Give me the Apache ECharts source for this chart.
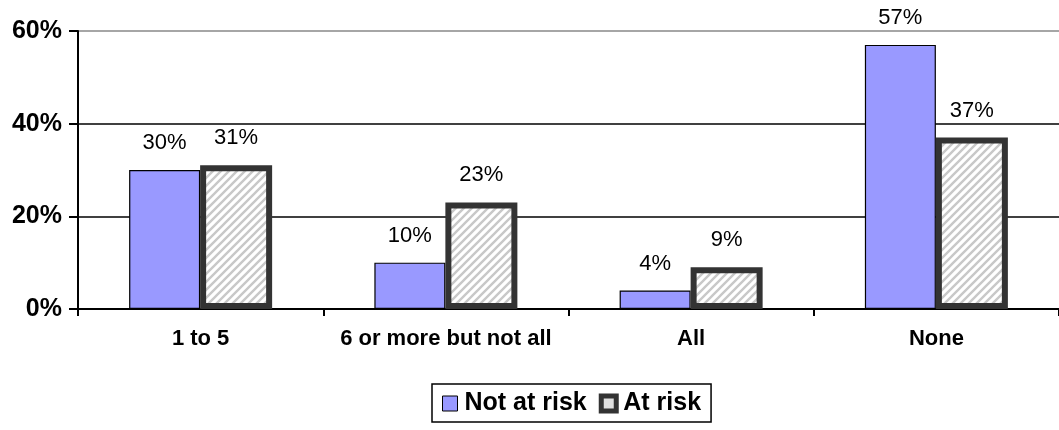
<!DOCTYPE html>
<html>
<head>
<meta charset="utf-8">
<script src="https://cdn.jsdelivr.net/npm/echarts@6/dist/echarts.min.js"></script>
<style>
html,body{margin:0;padding:0;background:#fff;}
#chart{width:1059px;height:430px;}
</style>
</head>
<body>
<div id="chart"></div>
<script>
var categories = ['1 to 5', '6 or more but not all', 'All', 'None'];
var notAtRisk = [30, 10, 4, 57];
var atRisk = [31, 23, 9, 37];
var seriesNames = ['Not at risk', 'At risk'];
var yTicks = [0, 20, 40, 60];

// hatch pattern tile
var tile = document.createElement('canvas');
tile.width = 8; tile.height = 8;
var c = tile.getContext('2d');
c.fillStyle = '#ffffff';
c.fillRect(0, 0, 8, 8);
c.strokeStyle = '#c8c8c8';
c.lineWidth = 2.4;
c.beginPath();
c.moveTo(-2, 10); c.lineTo(10, -2);
c.moveTo(-2, 2); c.lineTo(2, -2);
c.moveTo(6, 10); c.lineTo(10, 6);
c.stroke();

var font = "'Liberation Sans', Arial, sans-serif";
var chart = echarts.init(document.getElementById('chart'), null, {renderer: 'canvas'});
chart.setOption({
  animation: false,
  backgroundColor: '#fff',
  grid: {left: 78, top: 31, right: -8, bottom: 121, containLabel: false},
  legend: {
    left: 432, top: 384,
    orient: 'horizontal',
    padding: [7, 10, 6, 10],
    borderColor: '#000', borderWidth: 1.5,
    itemWidth: 15, itemHeight: 15, itemGap: 12,
    icon: 'rect',
    textStyle: {fontFamily: font, fontWeight: 'bold', fontSize: 25, color: '#000', padding: [0, 0, 0, 2]},
    data: [
      {name: seriesNames[0], itemStyle: {color: '#9999ff', borderColor: '#000', borderWidth: 1}},
      {name: seriesNames[1], itemStyle: {color: '#e0e0e0', borderColor: '#333', borderWidth: 5}}
    ]
  },
  xAxis: {
    type: 'category',
    data: categories,
    axisLine: {lineStyle: {color: '#000', width: 2}},
    axisTick: {show: true, interval: 0, length: 7, lineStyle: {color: '#000', width: 2}},
    axisLabel: {interval: 0, fontFamily: font, fontWeight: 'bold', fontSize: 22, color: '#000', margin: 19}
  },
  yAxis: {
    type: 'value',
    min: 0, max: 60, interval: 20,
    axisLine: {show: true, lineStyle: {color: '#000', width: 2}},
    axisTick: {show: true, length: 9, lineStyle: {color: '#000', width: 2}},
    axisLabel: {
      fontFamily: font, fontWeight: 'bold', fontSize: 25, color: '#000', margin: 16,
      formatter: function (v) { return yTicks.indexOf(v) >= 0 ? v + '%' : ''; }
    },
    splitLine: {show: true, lineStyle: {color: ['#000', '#000', '#000', '#888'], width: 1.5}}
  },
  series: [
    {
      name: seriesNames[0], type: 'bar', data: notAtRisk,
      barWidth: 71, barGap: '0%',
      itemStyle: {color: '#9999ff', borderColor: '#000', borderWidth: 1.2},
      label: {show: true, position: 'top', distance: 16, formatter: '{c}%',
        fontFamily: font, fontSize: 22, color: '#000'}
    },
    {
      name: seriesNames[1], type: 'bar', data: atRisk,
      barWidth: 72, barGap: '0%',
      itemStyle: {color: {image: tile, repeat: 'repeat'}, borderColor: '#333', borderWidth: 6},
      label: {show: true, position: 'top', distance: 16, formatter: '{c}%',
        fontFamily: font, fontSize: 22, color: '#000'}
    }
  ]
});
</script>
</body>
</html>
